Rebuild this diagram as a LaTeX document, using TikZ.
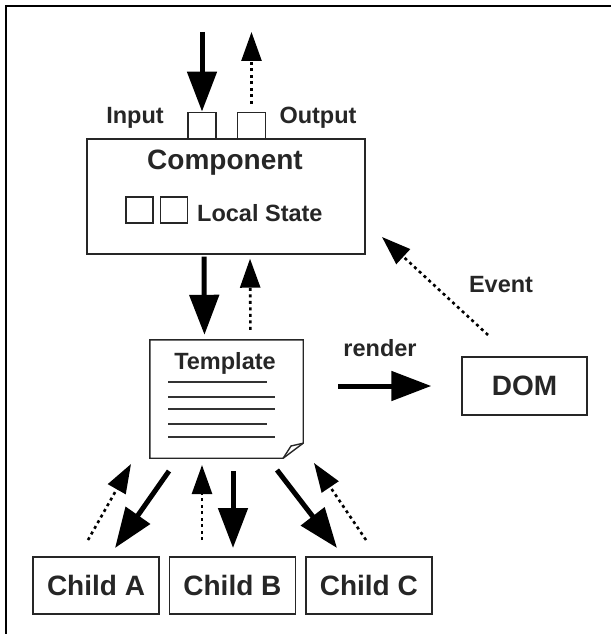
\documentclass[tikz,border=0pt]{standalone}
\usepackage{fontspec}
\setmainfont{Liberation Sans}
\usetikzlibrary{arrows.meta,positioning}

\begin{document}
\begin{tikzpicture}[x=1pt,y=-1pt,
  box/.style={draw=black!85,line width=1.4pt,inner sep=0pt},
  lbl/.style={font=\bfseries\fontsize{23.5}{25}\selectfont,text=black!85,inner sep=0pt},
  big/.style={font=\bfseries\fontsize{28}{30}\selectfont,text=black!85,inner sep=0pt},
  push/.style={line width=5pt,-{Triangle[length=40pt,width=29pt]}},
  pull/.style={line width=2.6pt,dash pattern=on 3pt off 3.5pt,-{Triangle[length=29pt,width=20pt]}}]
  \useasboundingbox (0,0) rectangle (610,634);
  \draw[line width=2.5pt] (612,6) -- (6,6) -- (6,636);

  \node[box,minimum width=278pt,minimum height=115pt] (comp) at (226,196.5) {};
  \node[big,font=\bfseries\fontsize{28}{30}\selectfont] (title) at (225,163) {Component};
  \node[box,minimum width=28pt,minimum height=26pt,anchor=south] (in) at (202,139) {};
  \node[box,minimum width=28pt,minimum height=26pt,anchor=south] (out) at (251.5,139) {};
  \node[lbl] (inlbl) at (135,118) {Input};
  \node[lbl] (outlbl) at (318,118) {Output};
  \node[box,minimum width=27pt,minimum height=26pt] (s1) at (139.5,210) {};
  \node[box,minimum width=27pt,minimum height=26pt,right=6pt of s1] (s2) {};
  \node[lbl,anchor=west] (state) at (197,213) {Local State};

  \node[minimum width=153pt,minimum height=118pt,inner sep=0pt] (tpl) at (226.5,399) {};
  \draw[box] (tpl.north west) -- (tpl.north east) -- ([yshift=15pt]tpl.south east)
    -- ([xshift=-20pt]tpl.south east) -- (tpl.south west) -- cycle;
  \draw[box] ([yshift=15pt]tpl.south east) -- (291,446) -- ([xshift=-20pt]tpl.south east);
  \node[lbl] (tpllbl) at (225,363) {Template};
  \draw[line width=1.3pt,black!80] (168,382) -- (267,382) (168,397) -- (275,397)
    (168,409) -- (275,409) (168,424) -- (267,424) (168,437) -- (275,437);

  \node[box,big,minimum width=125pt,minimum height=58pt] (dom) at (524.5,386) {DOM};
  \node[box,big,minimum width=126pt,minimum height=57pt] (ca) at (96,585.5) {Child A};
  \node[box,big,minimum width=126pt,minimum height=57pt,right=9pt of ca] (cb) {Child B};
  \node[box,big,minimum width=126pt,minimum height=57pt,right=9pt of cb] (cc) {Child C};

  \coordinate (insrc) at (202,32);
  \coordinate (outdst) at (251.5,32);
  \draw[push] (insrc) -- (in.north);
  \draw[pull,shorten <=8pt] (out.north) -- (outdst);

  \draw[push,shorten <=2pt,shorten >=5pt] ([xshift=-22pt]comp.south) -- ([xshift=-22pt]tpl.north);
  \draw[pull,shorten <=10pt,shorten >=4pt] ([xshift=24pt]tpl.north) -- ([xshift=24pt]comp.south);

  \draw[push,shorten <=35pt,shorten >=30pt] (tpl.east |- dom.west) -- (dom.west);
  \node[lbl] (rnd) at (380,348) {render};
  \coordinate (evs) at (488,335);
  \coordinate (evt) at (382,237);
  \draw[pull] (evs) -- (evt);
  \node[lbl] (evlbl) at (501,285) {Event};

  \coordinate (a1) at (88,540);   \coordinate (a2) at (131,464);
  \coordinate (b1) at (169,471);  \coordinate (b2) at (115,548);
  \coordinate (c1) at (202,540);  \coordinate (c2) at (202,465);
  \coordinate (d1) at (233,471);  \coordinate (d2) at (233,548);
  \coordinate (e1) at (277,470);  \coordinate (e2) at (337,548);
  \coordinate (f1) at (366,540);  \coordinate (f2) at (314,463);
  \draw[pull] (a1) -- (a2);
  \draw[push] (b1) -- (b2);
  \draw[pull] (c1) -- (c2);
  \draw[push] (d1) -- (d2);
  \draw[push] (e1) -- (e2);
  \draw[pull] (f1) -- (f2);
\end{tikzpicture}
\end{document}
